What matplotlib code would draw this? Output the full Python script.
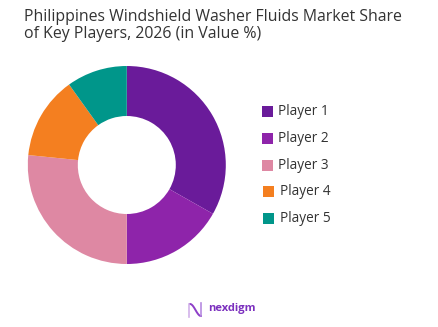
import numpy as np
import matplotlib
matplotlib.use("Agg")
import matplotlib.pyplot as plt

players = ["Player 1", "Player 2", "Player 3", "Player 4", "Player 5"]
shares = [33.2, 16.8, 26.6, 13.5, 9.9]
colors = ["#6A1B9A", "#8E24AA", "#DE88A3", "#F47F20", "#00968A"]

title_lines = ["Philippines Windshield Washer Fluids Market Share",
               "of Key Players, 2026 (in Value %)"]

plt.rcParams["font.family"] = ["Open Sans", "DejaVu Sans"]

W, H = 439, 327
fig = plt.figure(figsize=(W / 100, H / 100), dpi=100)
fig.patch.set_facecolor("white")

# titre (deux lignes, ligne de base)
for k, line in enumerate(title_lines):
    fig.text(24 / W, 1 - (21 + 17.5 * k) / H, line, ha="left", va="baseline",
             fontsize=11.4, color="#333333")

# donut
cx, cy, r = 126.8, 165, 100
ax = fig.add_axes([(cx - r) / W, 1 - (cy + r) / H, 2 * r / W, 2 * r / H])
ax.pie(shares, colors=colors, startangle=90, counterclock=False, radius=0.99,
       wedgeprops=dict(width=0.5, edgecolor="none"))
ax.set_xlim(-1, 1)
ax.set_ylim(-1, 1)
ax.set_aspect("equal")
ax.axis("off")

# legende
for k, (name, c) in enumerate(zip(players, colors)):
    y = 111.7 + k * 26.7
    xs = 262 if k < 3 else 263.5
    fig.patches.append(plt.Rectangle((xs / W, 1 - (y + 5.5) / H), 11 / W, 11 / H,
                                     transform=fig.transFigure, facecolor=c,
                                     edgecolor="none"))
    fig.text((xs + 16.5) / W, 1 - y / H, name, ha="left", va="center",
             fontsize=9.8, color="#333333")

# logo
t = np.linspace(0, 1, 50)
lx = 190 + 11 * t
ly = 304 + 12 * (0.5 - 0.5 * np.cos(np.pi * t))
fig.add_artist(plt.Line2D(lx / W, 1 - ly / H, color="#8E3FC8", lw=1.4,
                          transform=fig.transFigure))
fig.add_artist(plt.Line2D([189.5 / W, 189.5 / W], [1 - 304 / H, 1 - 317 / H],
                          color="#D2B2EA", lw=1.2, transform=fig.transFigure))
fig.add_artist(plt.Line2D([201.5 / W, 201.5 / W], [1 - 303 / H, 1 - 316 / H],
                          color="#B68AE0", lw=1.2, transform=fig.transFigure))
fig.text(208 / W, 1 - 309 / H, "nexdigm", ha="left", va="center",
         fontsize=8, fontweight="bold", color="#7B2FBE")

fig.savefig("out.png", dpi=100, facecolor="white")
